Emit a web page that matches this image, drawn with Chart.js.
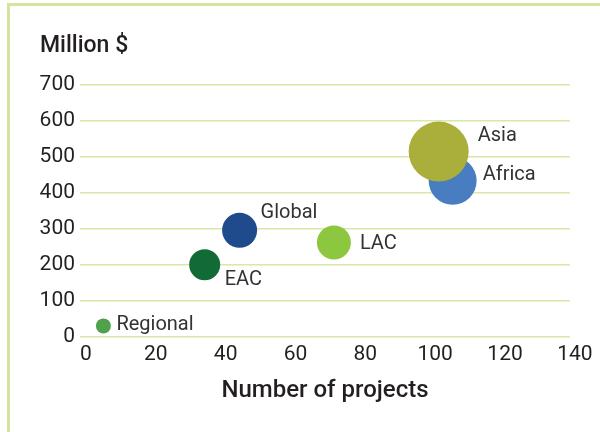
<!DOCTYPE html>
<html>
<head>
<meta charset="utf-8">
<script src="https://cdn.jsdelivr.net/npm/chart.js@4/dist/chart.umd.min.js"></script>
<style>
  html, body { margin: 0; padding: 0; background: #fff; overflow: hidden; }
  #frame {
    position: absolute; left: 7px; top: 3px; width: 700px; height: 500px;
    border-left: 3px solid #d3e49c; border-top: 3px solid #d3e49c;
  }
  #wrap { position: absolute; left: 0; top: 0; width: 600px; height: 432px; }
</style>
</head>
<body>
<div id="frame"></div>
<div id="wrap"><canvas id="chart" width="600" height="432"></canvas></div>
<script>
// regions and their portfolio
const regions = ['Regional', 'EAC', 'Global', 'LAC', 'Asia', 'Africa'];
const projectCounts = [5, 34, 44, 71, 101, 105];
const millionsUSD = [30, 200, 296, 262, 515, 434];
const bubbleSize = [7.5, 15.5, 17.5, 17, 30, 24];
const bubbleColors = ['#4fa24b', '#126a36', '#1f4a8c', '#8dc63f', '#aaaf3b', '#487dc2'];

const xTicks = [0, 20, 40, 60, 80, 100, 120, 140];
const yTicks = [0, 100, 200, 300, 400, 500, 600, 700];

// where each name sits relative to its bubble centre
const labelOffsets = [[13, -1], [20, 15], [21, -17], [26, 1], [39, -16], [30, -6]];

const textColor = '#231f20';
const gridColor = '#d9e8a8';

const bubbleLabels = {
    id: 'bubbleLabels',
    afterDatasetsDraw(chart) {
        const ctx = chart.ctx;
        ctx.save();
        ctx.font = '20px Roboto';
        ctx.fillStyle = '#333';
        ctx.textAlign = 'left';
        ctx.textBaseline = 'middle';
        chart.data.datasets.forEach((ds, i) => {
            const pt = chart.getDatasetMeta(i).data[0];
            const off = labelOffsets[i];
            ctx.fillText(ds.label, pt.x + off[0], pt.y + off[1]);
        });
        ctx.restore();
    }
};

const datasets = regions.map((name, i) => ({
    label: name,
    data: [{ x: projectCounts[i], y: millionsUSD[i], r: bubbleSize[i] }],
    backgroundColor: bubbleColors[i],
    borderWidth: 0,
    hoverRadius: 0
}));

new Chart(document.getElementById('chart'), {
    type: 'bubble',
    data: { datasets },
    plugins: [bubbleLabels],
    options: {
        responsive: false,
        animation: false,
        layout: { padding: { left: 40, top: 32, right: 29, bottom: 0 } },
        plugins: {
            legend: { display: false },
            tooltip: { enabled: false },
            title: {
                display: true,
                text: 'Million $',
                align: 'start',
                color: textColor,
                font: { family: 'Roboto', size: 23, weight: 500 },
                padding: { top: 0, bottom: 25.5 }
            }
        },
        scales: {
            x: {
                type: 'linear',
                min: -1.7,
                max: 138.6,
                afterBuildTicks: scale => { scale.ticks = xTicks.map(v => ({ value: v })); },
                afterFit: scale => { scale.height = 95.3; },
                grid: { display: false, drawTicks: false },
                border: { display: false },
                ticks: {
                    color: textColor,
                    font: { family: 'Roboto', size: 21 },
                    padding: 5,
                    autoSkip: false,
                    maxRotation: 0
                },
                title: {
                    display: true,
                    text: 'Number of projects',
                    color: textColor,
                    font: { family: 'Roboto', size: 24, weight: 500 },
                    padding: { top: 0, bottom: 27 }
                }
            },
            y: {
                min: 0,
                max: 700,
                afterBuildTicks: scale => { scale.ticks = yTicks.map(v => ({ value: v })); },
                afterFit: scale => { scale.width = 40; },
                grid: { color: gridColor, lineWidth: 1.5, drawTicks: false },
                border: { display: false },
                ticks: {
                    color: textColor,
                    font: { family: 'Roboto', size: 21 },
                    padding: 5
                }
            }
        }
    }
});
</script>
</body>
</html>
